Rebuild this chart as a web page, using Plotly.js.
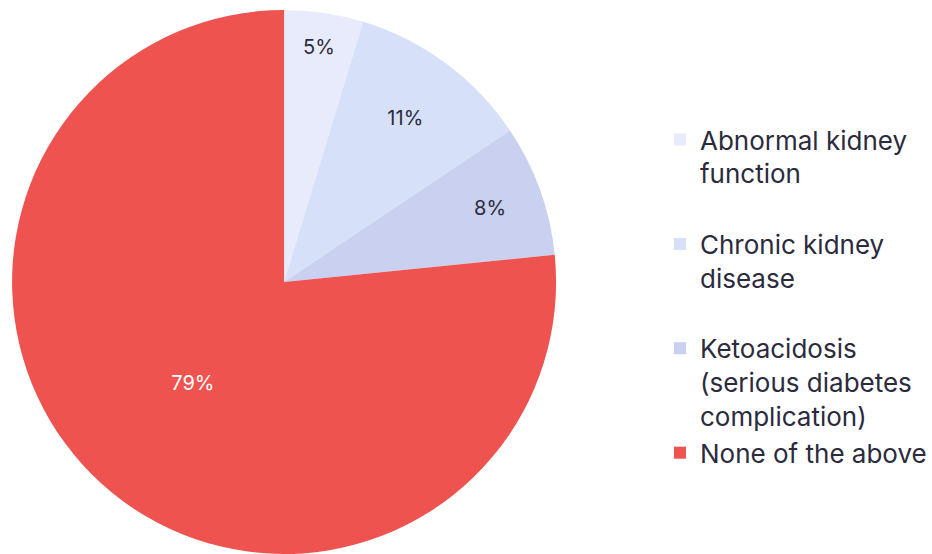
<!DOCTYPE html>
<html><head><meta charset="utf-8">
<script src="https://cdn.plot.ly/plotly-3.0.1.min.js"></script>
<style>html,body{margin:0;padding:0;background:#fff}</style>
</head><body><div id="chart" style="width:932px;height:554px"></div>
<script>
const labels = ["Abnormal kidney<br>function<br> ", "Chronic kidney<br>disease<br> ", "Ketoacidosis<br>(serious diabetes<br>complication)", "None of the above"];
const values = [4.7, 10.9, 7.8, 76.6];
const textLabels = ["5%", "11%", "8%", "79%"];
const colors = ["#E8EBFB", "#D6E0F8", "#C9D0F0", "#EF5350"];
const textColors = ["#2B2B3D", "#2B2B3D", "#2B2B3D", "#FFFFFF"];

const font = "Inter, 'Open Sans', sans-serif";
Plotly.newPlot("chart", [{
  type: "pie",
  labels: labels,
  values: values,
  text: textLabels,
  textinfo: "text",
  textposition: "inside",
  insidetextorientation: "horizontal",
  insidetextfont: {family: font, size: 20, color: textColors},
  marker: {colors: colors, line: {width: 0}},
  sort: false,
  direction: "clockwise",
  rotation: 0,
  hoverinfo: "none",
  domain: {x: [12/932, 558/932], y: [0, 1]}
}], {
  width: 932, height: 554,
  margin: {l: 0, r: 0, t: 10, b: 0},
  paper_bgcolor: "#fff",
  showlegend: true,
  legend: {
    x: 0.7104, xanchor: "left", y: 0.805, yanchor: "top",
    font: {family: font, size: 26, color: "#2B2B3D"},
    valign: "top", traceorder: "normal"
  }
}, {displayModeBar: false, staticPlot: true});
</script></body></html>
